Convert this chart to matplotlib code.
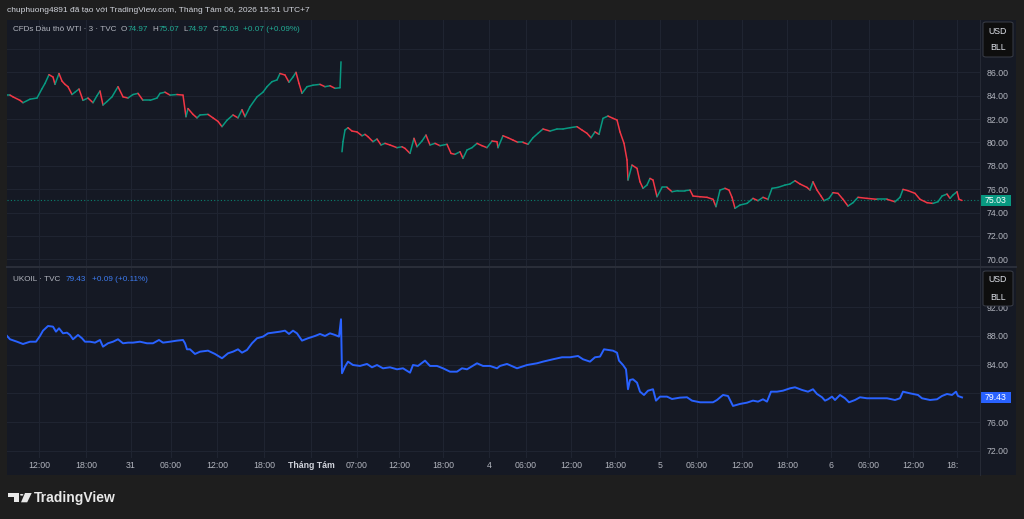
import numpy as np
import matplotlib
matplotlib.use("Agg")
import matplotlib.pyplot as plt
from matplotlib.collections import LineCollection
from matplotlib.patches import Rectangle, FancyBboxPatch, Circle, Polygon
from matplotlib.transforms import blended_transform_factory, Bbox, TransformedBbox

plt.rcParams['font.family'] = ['Liberation Sans', 'DejaVu Sans']

# ---------------- DATA ----------------
header_text = "chuphuong4891 đã tạo với TradingView.com, Tháng Tám 06, 2026 15:51 UTC+7"
wti_name = "CFDs Dầu thô WTI · 3 · TVC"
wti_ohlc = ["74.97", "75.07", "74.97", "75.03"]
wti_change = "+0.07 (+0.09%)"
uk_name = "UKOIL · TVC"
uk_change = "+0.09 (+0.11%)"

# bar index (x) and close values, WTI session 1 and session 2
wti_x1 = [0,3,6,13,16,23,30,35,38,42,46,48,52,55,58,61,65,68,72,76,81,86,90,93,96,100,105,111,116,121,126,131,136,143,150,153,158,163,170,176,179,181,186,190,193,201,206,211,215,220,226,231,235,238,243,250,256,260,265,270,273,278,282,286,289,292,295,300,306,313,318,323,328,333,334]
wti_c1 = [84.05,84.05,83.9,83.6,83.4,83.7,83.8,84.6,85.05,85.8,85.6,84.97,85.9,85.25,84.97,84.77,84.1,84.3,84.57,83.6,83.8,83.4,84.0,84.4,83.2,83.5,83.9,84.77,83.9,83.8,84.1,84.2,83.6,83.6,83.8,84.2,84.3,84.05,84.1,84.05,82.2,82.9,82.4,82.1,82.35,82.4,82.1,81.8,81.35,81.9,82.35,82.1,82.8,82.2,83.05,83.9,84.3,84.77,85.2,85.35,85.9,85.77,85.15,85.6,86.0,85.05,84.2,84.77,84.9,84.97,84.77,84.85,84.63,84.68,86.9]
wti_x2 = [335,336,338,341,345,350,355,358,361,366,370,374,378,383,390,395,398,403,407,410,415,419,423,428,433,440,444,448,453,456,460,465,470,475,480,485,490,491,496,501,506,511,516,521,526,531,536,543,550,556,563,570,575,580,584,588,592,596,601,606,610,613,617,620,621,625,630,633,636,640,643,646,650,655,660,665,671,678,683,686,693,700,706,709,713,718,722,725,728,733,740,746,751,756,761,765,771,778,783,788,793,800,803,806,810,814,817,822,826,831,836,841,846,851,860,870,880,888,893,896,901,908,913,920,926,931,935,940,943,946,950,952,955]
wti_c2 = [79.2,80.06,81.06,81.26,80.97,80.9,80.57,80.69,80.49,80.06,80.29,79.78,79.92,79.78,79.55,79.63,79.49,79.06,80.35,79.63,80.12,80.63,79.78,79.92,79.72,79.84,79.06,78.98,79.2,78.63,79.35,79.55,79.92,79.72,79.55,80.12,80.06,79.55,80.57,80.4,80.2,80.0,80.0,79.84,80.4,80.78,81.15,80.97,81.15,81.15,81.26,81.35,81.06,80.78,80.4,80.9,80.69,82.06,82.26,82.06,81.92,80.9,79.92,78.5,76.78,78.06,77.78,76.63,76.07,76.35,76.92,76.78,75.35,76.15,76.15,75.78,75.87,75.87,75.92,75.41,75.35,75.3,75.13,74.5,75.92,76.07,75.92,75.3,74.36,74.64,74.78,75.21,75.01,75.3,75.13,76.07,76.15,76.35,76.44,76.72,76.44,76.15,75.92,76.63,75.92,75.41,75.01,75.21,75.7,75.64,75.13,74.55,74.84,75.3,75.21,75.13,75.13,74.92,75.3,75.98,75.87,75.64,75.13,74.84,74.78,74.92,75.41,75.58,75.21,75.5,75.78,75.13,75.03]

uk_x = [0,3,10,16,23,29,33,36,41,46,49,52,56,60,63,66,71,75,78,83,88,93,96,101,106,111,116,121,126,133,140,146,152,156,163,170,176,178,180,183,188,193,201,208,215,221,226,231,235,240,245,250,256,261,266,273,278,282,286,290,295,301,308,313,318,323,328,332,334,335,338,341,346,353,360,365,370,376,383,390,396,403,406,411,418,423,430,436,443,450,455,460,470,476,483,490,493,500,510,520,530,536,546,555,563,571,576,583,588,593,597,601,606,610,612,616,619,621,623,626,630,633,637,641,646,649,653,660,665,673,680,685,693,706,710,716,721,726,733,740,746,751,756,760,764,770,776,783,788,795,801,806,810,815,818,821,825,828,833,838,842,848,853,860,870,880,888,893,896,903,911,915,923,930,935,940,945,949,951,955]
uk_c = [88.0,87.54,87.2,86.88,87.2,87.2,88.0,88.74,89.39,89.3,88.6,89.07,88.37,88.46,88.14,87.54,88.14,87.68,87.2,87.2,87.07,87.44,86.51,86.98,87.2,87.54,86.98,87.07,87.07,87.2,86.98,86.98,87.44,87.07,87.2,87.35,87.44,86.98,86.14,86.14,85.49,85.81,85.95,85.49,84.89,85.58,85.81,86.14,85.67,86.05,86.98,87.68,87.91,88.37,88.46,88.6,88.74,88.28,88.74,88.37,87.35,87.68,88.0,88.28,88.0,88.37,88.14,87.91,90.33,82.8,83.72,84.42,83.95,83.82,84.1,83.63,83.95,83.49,83.63,83.35,83.49,82.88,83.95,83.82,84.56,83.82,83.82,83.49,83.02,83.02,83.49,83.35,84.19,83.82,83.82,83.49,83.82,84.1,83.49,83.95,84.19,84.42,84.75,85.03,85.03,85.21,84.75,84.42,85.03,85.12,86.14,86.05,85.95,85.67,84.56,83.95,83.35,80.57,81.86,81.96,81.49,80.23,79.77,80.37,80.57,78.98,79.54,79.54,79.21,79.4,79.45,78.98,78.75,78.75,79.07,79.77,79.63,78.24,78.52,78.7,78.98,78.84,79.17,78.84,80.23,80.23,80.37,80.7,80.84,80.47,80.23,80.57,79.91,79.45,78.98,79.17,79.54,79.07,79.77,79.31,78.75,79.07,79.45,79.31,79.31,79.31,79.07,79.31,80.23,80.0,79.77,79.31,79.07,79.17,79.63,79.91,79.77,80.23,79.63,79.43]

time_ticks = [32,79,124,164,210,257,304,350,392,436,482,519,564,608,653,690,735,780,824,862,906,950]
time_labels = ["12:00","18:00","31","06:00","12:00","18:00","Tháng Tám","07:00","12:00","18:00","4",
               "06:00","12:00","18:00","5","06:00","12:00","18:00","6","06:00","12:00","18:00"]
wti_yticks = [70,72,74,76,78,80,82,84,86,88]
uk_yticks = [72,76,80,84,88,92]

# ---------------- STYLE ----------------
W, H = 1024, 519
BG_OUT = '#1e1e1e'
BG = '#151924'
GRID = '#1f2431'
TXT = '#b2b5be'
UP = '#089981'
DN = '#f23645'
BLUE = '#2962ff'
FS = 6.3

def fx(px): return px / W
def fy(py): return 1 - py / H

fig = plt.figure(figsize=(W / 100, H / 100), dpi=100, facecolor=BG_OUT)
fig.patches.append(Rectangle((fx(7), fy(475)), fx(1016) - fx(7), (475 - 20) / H,
                             transform=fig.transFigure, fc=BG, ec='none', zorder=-5))

ax1 = fig.add_axes([fx(7), fy(266), fx(980) - fx(7), (266 - 20) / H])
ax2 = fig.add_axes([fx(7), fy(458), fx(980) - fx(7), (458 - 268) / H])
ax1.set_ylim(69.42, 90.48)
ax2.set_ylim(70.98, 97.48)

wti_last = wti_c2[-1]
uk_last = uk_c[-1]

for ax, yt, last in ((ax1, wti_yticks, wti_last), (ax2, uk_yticks, uk_last)):
    ax.set_facecolor('none')
    ax.set_xlim(0, 973)
    for s in ax.spines.values():
        s.set_visible(False)
    ax.set_xticks(time_ticks)
    ax.set_yticks(yt)
    ylo, yhi = ax.get_ylim()
    ppu = ax.bbox.height / (yhi - ylo)
    labs = []
    for v in yt:
        top_px = (yhi - v) * ppu          # distance from the pane top
        hidden = top_px < 38 or abs(v - last) * ppu < 9   # under the USD box / price label
        labs.append("" if hidden else f"{v:.2f}")
    ax.set_yticklabels(labs)
    ax.yaxis.tick_right()
    ax.tick_params(axis='y', length=0, pad=4.5, labelsize=FS, labelcolor=TXT)
    ax.tick_params(axis='x', length=0, labelbottom=False)
    ax.grid(True, color=GRID, linewidth=0.8)
    ax.set_axisbelow(True)

# WTI candles (close-to-close segments coloured by direction)
for xs, cs in ((wti_x1, wti_c1), (wti_x2, wti_c2)):
    xs = np.asarray(xs, float); cs = np.asarray(cs, float)
    segs = np.stack([np.column_stack([xs[:-1], cs[:-1]]), np.column_stack([xs[1:], cs[1:]])], axis=1)
    cols = [UP if b >= a else DN for a, b in zip(cs[:-1], cs[1:])]
    ax1.add_collection(LineCollection(segs, colors=cols, linewidths=1.1, capstyle='round', zorder=3))

ax1.axhline(wti_last, color=UP, lw=0.8, ls=(0, (1, 2)), alpha=0.8, zorder=2)

ax2.plot(uk_x, uk_c, color=BLUE, lw=1.4, zorder=3)

# time axis labels
trans_t = blended_transform_factory(ax2.transData, fig.transFigure)
for pos, lab in zip(time_ticks, time_labels):
    bold = lab == "Tháng Tám"
    t = ax2.text(pos, fy(466), lab, transform=trans_t, ha='center', va='center',
                 fontsize=FS, color='#d1d4dc' if bold else TXT,
                 fontweight='bold' if bold else 'normal', clip_on=False)
    if pos == time_ticks[-1]:
        t.set_clip_on(True)
        t.set_clip_box(TransformedBbox(Bbox([[fx(7), 0], [fx(958), 1]]), fig.transFigure))

# separators
fig.add_artist(plt.Line2D([fx(980), fx(980)], [fy(20), fy(475)], transform=fig.transFigure,
                          color='#262a35', lw=0.8))
fig.add_artist(plt.Line2D([fx(7), fx(1016)], [fy(267), fy(267)], transform=fig.transFigure,
                          color='#2a2e39', lw=1.5))

# last price labels
def price_label(ax, val, color):
    ppu = ax.bbox.height / (ax.get_ylim()[1] - ax.get_ylim()[0])
    h = 11 / ppu
    tr = blended_transform_factory(fig.transFigure, ax.transData)
    ax.add_patch(Rectangle((fx(980), val - h / 2), fx(1011) - fx(980), h, transform=tr,
                           fc=color, ec='none', clip_on=False, zorder=10))
    ax.text(fx(995.5), val, f"{val:.2f}", transform=tr, ha='center', va='center',
            fontsize=FS, color='white', clip_on=False, zorder=11)

price_label(ax1, wti_last, UP)
price_label(ax2, uk_last, BLUE)

# USD / BLL boxes
for top in (22, 271):
    fig.patches.append(FancyBboxPatch((fx(983), fy(top + 35)), fx(1013) - fx(983), 35 / H,
                                      boxstyle='round,pad=0,rounding_size=0.003',
                                      transform=fig.transFigure, fc='#0e0e0e', ec='#3a3e48',
                                      lw=0.7, zorder=5))
    fig.text(fx(998), fy(top + 9), "USD", ha='center', va='center', fontsize=FS, color='#e0e3eb', zorder=6)
    fig.text(fx(998), fy(top + 26), "BLL", ha='center', va='center', fontsize=FS, color='#e0e3eb', zorder=6)

# header
fig.text(fx(7), fy(11), header_text, ha='left', va='center', fontsize=6.0, color='#d1d4dc')

def chain(x0, ypx, pieces, size):
    fig.canvas.draw()
    r = fig.canvas.get_renderer()
    x = x0
    for s, c, gap in pieces:
        t = fig.text(fx(x), fy(ypx), s, ha='left', va='center', fontsize=size, color=c)
        x += t.get_window_extent(r).width + gap

GREEN_T = '#22ab94'
BLUE_T = '#3d7bf0'
chain(12.7, 29.5, [(wti_name, TXT, 5.0), ("O", TXT, 0.3), (wti_ohlc[0], GREEN_T, 4.0),
                   ("H", TXT, 0.3), (wti_ohlc[1], GREEN_T, 4.0), ("L", TXT, 0.3),
                   (wti_ohlc[2], GREEN_T, 4.0), ("C", TXT, 0.3), (wti_ohlc[3], GREEN_T, 4.5),
                   (wti_change, GREEN_T, 0)], 5.9)
chain(12.7, 279.5, [(uk_name, TXT, 6), (f"{uk_last:.2f}", BLUE_T, 6), (uk_change, BLUE_T, 0)], 5.9)

# TradingView logo
lc = '#e8e8e8'
fig.patches.append(Polygon([(fx(8.3), fy(493)), (fx(19.0), fy(493)), (fx(19.0), fy(502.3)),
                            (fx(14.2), fy(502.3)), (fx(14.2), fy(496.6)), (fx(8.3), fy(496.6))],
                           closed=True, transform=fig.transFigure, fc=lc, ec='none'))
fig.patches.append(Circle((fx(21.7), fy(494.8)), 1.7 / W, transform=fig.transFigure, fc=lc, ec='none'))
fig.patches.append(Polygon([(fx(25.0), fy(493)), (fx(31.7), fy(493)), (fx(27.2), fy(502.3)),
                            (fx(21.0), fy(502.3))],
                           closed=True, transform=fig.transFigure, fc=lc, ec='none'))
fig.text(fx(34.3), fy(497.8), "TradingView", ha='left', va='center', fontsize=10.0,
         fontweight='bold', color=lc)

fig.savefig("out.png", dpi=100, facecolor=BG_OUT)
